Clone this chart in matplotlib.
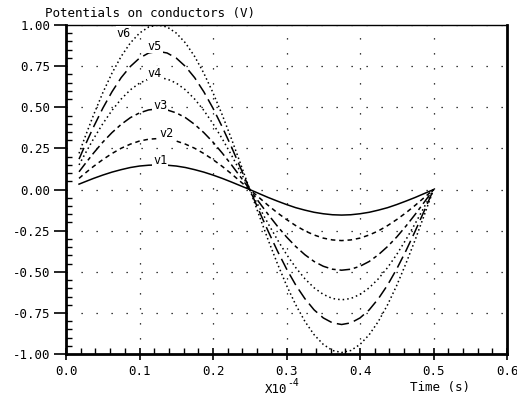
import matplotlib
matplotlib.use("Agg")
import matplotlib.pyplot as plt
from matplotlib.ticker import MultipleLocator, FormatStrFormatter

plt.rcParams["font.family"] = ["DejaVu Sans Mono"]

# time axis (units of 1e-4 s)
time = [0.0177, 0.025, 0.0375, 0.05, 0.0625, 0.075, 0.0875, 0.1, 0.1125,
        0.125, 0.1375, 0.15, 0.1625, 0.175, 0.1875, 0.2, 0.2125, 0.225,
        0.2375, 0.25, 0.2625, 0.275, 0.2875, 0.3, 0.3125, 0.325, 0.3375,
        0.35, 0.3625, 0.375, 0.3875, 0.4, 0.4125, 0.425, 0.4375, 0.45,
        0.4625, 0.475, 0.4875, 0.5]

v1 = [0.033, 0.046, 0.068, 0.088, 0.106, 0.121, 0.134, 0.143, 0.148, 0.150,
      0.148, 0.143, 0.134, 0.121, 0.106, 0.088, 0.068, 0.046, 0.023, 0.0,
      -0.024, -0.048, -0.070, -0.091, -0.110, -0.125, -0.138, -0.147, -0.153,
      -0.155, -0.153, -0.147, -0.138, -0.125, -0.110, -0.091, -0.070, -0.048,
      -0.024, 0.0]
v2 = [0.068, 0.096, 0.141, 0.182, 0.219, 0.251, 0.276, 0.295, 0.306, 0.310,
      0.306, 0.295, 0.276, 0.251, 0.219, 0.182, 0.141, 0.096, 0.048, 0.0,
      -0.048, -0.096, -0.141, -0.182, -0.219, -0.251, -0.276, -0.295, -0.306,
      -0.310, -0.306, -0.295, -0.276, -0.251, -0.219, -0.182, -0.141, -0.096,
      -0.048, 0.0]
v3 = [0.108, 0.151, 0.222, 0.288, 0.346, 0.396, 0.437, 0.466, 0.484, 0.490,
      0.484, 0.466, 0.437, 0.396, 0.346, 0.288, 0.222, 0.151, 0.076, 0.0,
      -0.076, -0.151, -0.222, -0.288, -0.346, -0.396, -0.437, -0.466, -0.484,
      -0.490, -0.484, -0.466, -0.437, -0.396, -0.346, -0.288, -0.222, -0.151,
      -0.076, 0.0]
v4 = [0.150, 0.210, 0.309, 0.400, 0.481, 0.550, 0.606, 0.647, 0.672, 0.680,
      0.672, 0.647, 0.606, 0.550, 0.481, 0.400, 0.309, 0.210, 0.106, 0.0,
      -0.105, -0.207, -0.304, -0.394, -0.474, -0.542, -0.597, -0.637, -0.662,
      -0.670, -0.662, -0.637, -0.597, -0.542, -0.474, -0.394, -0.304, -0.207,
      -0.105, 0.0]
v5 = [0.185, 0.260, 0.381, 0.494, 0.594, 0.680, 0.748, 0.799, 0.830, 0.840,
      0.830, 0.799, 0.748, 0.680, 0.594, 0.494, 0.381, 0.260, 0.131, 0.0,
      -0.128, -0.253, -0.372, -0.482, -0.580, -0.663, -0.731, -0.780, -0.810,
      -0.820, -0.810, -0.780, -0.731, -0.663, -0.580, -0.482, -0.372, -0.253,
      -0.128, 0.0]
v6 = [0.220, 0.309, 0.454, 0.588, 0.707, 0.809, 0.891, 0.951, 0.988, 1.000,
      0.988, 0.951, 0.891, 0.809, 0.707, 0.588, 0.454, 0.309, 0.156, 0.0,
      -0.154, -0.306, -0.449, -0.582, -0.700, -0.801, -0.882, -0.941, -0.978,
      -0.990, -0.978, -0.941, -0.882, -0.801, -0.700, -0.582, -0.449, -0.306,
      -0.154, 0.0]

series = [v1, v2, v3, v4, v5, v6]
names = ["v1", "v2", "v3", "v4", "v5", "v6"]
label_pos = [(0.128, 0.177), (0.137, 0.34), (0.128, 0.51),
             (0.121, 0.707), (0.121, 0.872), (0.078, 0.95)]
styles = ["-", (0, (3, 2.5)), (0, (7, 2.5, 2.5, 2.5)), (0, (1, 2)),
          (0, (8, 3.5)), (0, (1, 1.8))]

fig = plt.figure(figsize=(5.17, 3.97), dpi=100)
ax = fig.add_axes([0.1277, 0.108, 0.853, 0.829])

for vals, ls in zip(series, styles):
    ax.plot(time, vals, color="black", linestyle=ls, linewidth=1.1)

for name, (x, y) in zip(names, label_pos):
    ax.text(x, y, name, ha="center", va="center", fontsize=8.5,
            bbox=dict(facecolor="white", edgecolor="none", pad=0.5))

ax.set_xlim(0, 0.6)
ax.set_ylim(-1, 1)
ax.xaxis.set_major_locator(MultipleLocator(0.1))
ax.xaxis.set_minor_locator(MultipleLocator(0.02))
ax.yaxis.set_major_locator(MultipleLocator(0.25))
ax.yaxis.set_minor_locator(MultipleLocator(0.05))
ax.xaxis.set_major_formatter(FormatStrFormatter("%.1f"))
ax.yaxis.set_major_formatter(FormatStrFormatter("%.2f"))

ax.grid(True, which="major", color="black", linewidth=0.9,
        linestyle=(0, (1, 11)))

ax.tick_params(axis="x", which="major", direction="inout", length=9,
               width=1.2, labelsize=9, pad=3)
ax.tick_params(axis="x", which="minor", direction="in", length=4, width=1)
ax.tick_params(axis="y", which="major", direction="out", length=9,
               width=1.2, labelsize=9, pad=2)
ax.tick_params(axis="y", which="minor", direction="in", length=4, width=1)

for side in ["left", "bottom", "right"]:
    ax.spines[side].set_linewidth(2)
ax.spines["top"].set_linewidth(1)

fig.text(0.087, 0.965, "Potentials on conductors (V)", fontsize=9,
         ha="left", va="center")
fig.text(0.513, 0.02, "X10", fontsize=9, ha="left", va="center")
fig.text(0.555, 0.036, "-4", fontsize=7, ha="left", va="center")
fig.text(0.91, 0.025, "Time (s)", fontsize=9, ha="right", va="center")

fig.savefig("out.png", dpi=100)
